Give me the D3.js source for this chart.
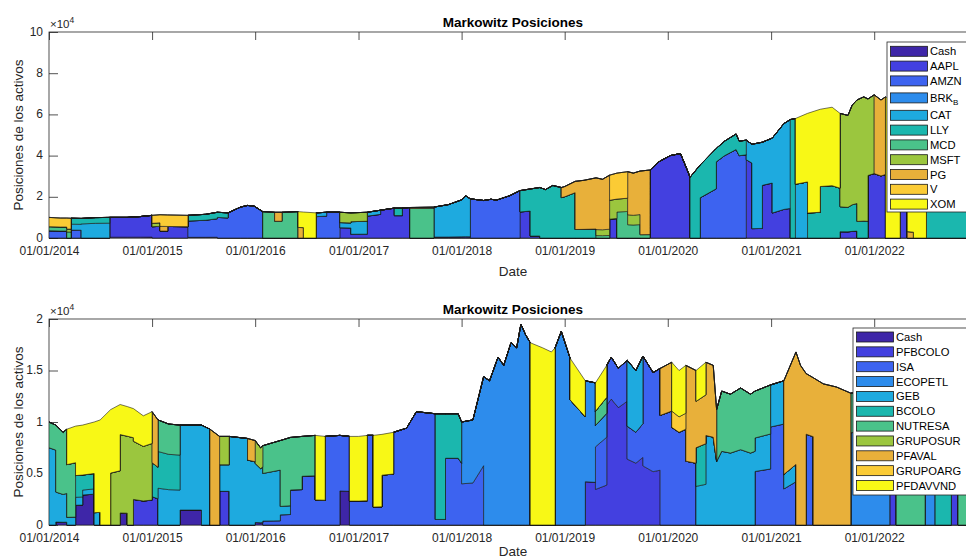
<!DOCTYPE html>
<html lang="es">
<head>
  <meta charset="UTF-8">
  <title>Markowitz Posiciones</title>
  <script src="https://d3js.org/d3.v7.min.js"></script>
  <style>
    body { margin: 0; background: #fff; }
    svg { display: block; font-family: "Liberation Sans", Arial, sans-serif; }
    .tick text { font-size: 12px; fill: #262626; }
    .tick line { stroke: #262626; stroke-width: 0.8; }
    .area { stroke: #1a1a1a; stroke-width: 0.6; stroke-linejoin: round; }
  </style>
</head>
<body>
<svg id="chart" width="966" height="560"></svg>
<script>
// colores tipo parula (uno por serie)
const colors = ["#3e26a8", "#4340e0", "#3d63f0", "#2d8cec", "#1eaadf", "#1bb7ae",
                "#4ac28a", "#9bc63e", "#e8b03a", "#fbcb35", "#f8f816"];

const topNames = ["Cash", "AAPL", "AMZN", "BRK_B", "CAT", "LLY", "MCD", "MSFT", "PG", "V", "XOM"];
const bottomNames = ["Cash", "PFBCOLO", "ISA", "ECOPETL", "GEB", "BCOLO", "NUTRESA",
                     "GRUPOSUR", "PFAVAL", "GRUPOARG", "PFDAVVND"];

const topYTicks = [0, 2, 4, 6, 8, 10];
const bottomYTicks = [0, 0.5, 1, 1.5, 2];

// valor total de la cartera (x10^4)
const topTotal = [
  ["2014-01-01",1.00],["2014-02-10",0.97],["2014-03-05",0.97],["2014-03-20",0.96],["2014-04-25",0.95],
  ["2014-06-15",0.99],["2014-08-04",1.00],["2014-10-05",1.00],["2014-11-20",1.04],["2015-01-01",1.10],
  ["2015-01-29",1.13],["2015-02-25",1.12],["2015-05-08",1.10],["2015-07-10",1.15],["2015-08-20",1.25],
  ["2015-09-27",1.22],["2015-11-10",1.50],["2015-12-05",1.58],["2015-12-28",1.55],["2016-01-28",1.28],
  ["2016-03-10",1.25],["2016-04-05",1.25],["2016-06-01",1.28],["2016-06-20",1.26],["2016-08-04",1.22],
  ["2016-09-10",1.25],["2016-10-27",1.25],["2016-12-05",1.22],["2017-02-01",1.25],["2017-03-20",1.35],
  ["2017-05-08",1.45],["2017-06-05",1.45],["2017-07-02",1.48],["2017-09-25",1.50],["2017-11-15",1.62],
  ["2018-01-01",1.85],["2018-01-15",2.05],["2018-02-01",1.90],["2018-03-20",1.82],["2018-04-15",1.88],
  ["2018-05-05",1.84],["2018-06-20",2.05],["2018-07-27",2.30],["2018-09-01",2.38],["2018-10-05",2.45],
  ["2018-10-25",2.35],["2018-11-20",2.55],["2018-12-20",2.45],["2019-01-01",2.50],["2019-02-07",2.75],
  ["2019-03-10",2.80],["2019-04-22",2.92],["2019-05-15",2.85],["2019-06-09",3.05],["2019-07-05",3.15],
  ["2019-08-12",3.22],["2019-09-01",3.15],["2019-09-25",3.25],["2019-10-30",3.30],["2019-12-01",3.70],
  ["2019-12-20",3.85],["2020-01-10",4.00],["2020-02-15",4.10],["2020-03-10",3.30],["2020-03-20",2.95],
  ["2020-04-25",3.55],["2020-05-20",3.90],["2020-06-21",4.35],["2020-07-20",4.70],["2020-08-30",5.05],
  ["2020-09-10",4.70],["2020-10-05",4.75],["2020-10-25",4.55],["2020-12-01",4.65],["2021-01-05",4.85],
  ["2021-02-15",5.55],["2021-03-10",5.75],["2021-03-28",5.80],["2021-05-10",6.05],["2021-06-24",6.25],
  ["2021-08-05",6.35],["2021-09-02",6.05],["2021-09-30",5.95],["2021-10-15",6.45],["2021-11-01",6.70],
  ["2021-11-25",6.85],["2021-12-10",6.75],["2022-01-01",6.95],["2022-01-25",6.70],["2022-02-10",6.85],
  ["2022-04-03",6.50],["2022-04-28",6.20],["2022-05-20",5.70],["2022-07-05",5.60],["2022-08-20",6.10],
  ["2022-10-01",5.60],["2022-12-31",6.00]
];

// reparto de la cartera desde cada fecha de rebalanceo
const topMixes = [
  ["2014-01-01",{AMZN:.35,MCD:.20,V:.45}],
  ["2014-03-05",{MCD:.30,MSFT:.15,V:.55}],
  ["2014-03-20",{AMZN:.40,CAT:.30,LLY:.30}],
  ["2014-04-25",{CAT:.72,LLY:.28}],
  ["2014-08-04",{Cash:.04,AAPL:.96}],
  ["2015-01-01",{AAPL:.50,MSFT:.15,V:.35}],
  ["2015-01-29",{AAPL:.30,PG:.20,V:.50}],
  ["2015-02-25",{AAPL:.50,V:.50}],
  ["2015-05-08",{Cash:.03,AMZN:.72,LLY:.25}],
  ["2015-08-20",{AMZN:.80,LLY:.20}],
  ["2015-09-27",{AMZN:1}],
  ["2016-01-28",{MCD:1}],
  ["2016-03-10",{MCD:.65,PG:.35}],
  ["2016-04-05",{MCD:1}],
  ["2016-06-01",{PG:.40,XOM:.60}],
  ["2016-06-20",{XOM:1}],
  ["2016-08-04",{AMZN:.85,CAT:.15}],
  ["2016-09-10",{AMZN:1}],
  ["2016-10-27",{AAPL:.40,CAT:.20,MSFT:.40}],
  ["2016-12-05",{AAPL:.15,CAT:.50,MSFT:.35}],
  ["2017-02-01",{AAPL:.85,CAT:.15}],
  ["2017-03-20",{AAPL:1}],
  ["2017-05-08",{AAPL:.75,LLY:.25}],
  ["2017-06-05",{AAPL:1}],
  ["2017-07-02",{MCD:.97,PG:.03}],
  ["2017-09-25",{AAPL:.03,CAT:.97}],
  ["2018-02-01",{AMZN:1}],
  ["2018-07-27",{AAPL:.55,LLY:.45}],
  ["2018-09-01",{AAPL:.04,LLY:.96}],
  ["2018-10-05",{LLY:1}],
  ["2018-12-20",{LLY:.80,PG:.20}],
  ["2019-02-07",{LLY:.15,PG:.85}],
  ["2019-04-22",{MCD:.04,MSFT:.10,PG:.86}],
  ["2019-06-09",{AAPL:.30,MSFT:.30,V:.40}],
  ["2019-07-05",{MCD:.40,MSFT:.20,V:.40}],
  ["2019-08-12",{MCD:.20,MSFT:.15,PG:.65}],
  ["2019-09-25",{MCD:.05,PG:.95}],
  ["2019-10-30",{AAPL:1}],
  ["2020-03-20",{LLY:1}],
  ["2020-04-25",{AMZN:.55,LLY:.45}],
  ["2020-06-21",{AMZN:.85,LLY:.15}],
  ["2020-10-05",{AAPL:.80,CAT:.20}],
  ["2020-10-25",{AAPL:.10,CAT:.90}],
  ["2020-12-01",{AAPL:.55,CAT:.45}],
  ["2021-01-05",{AAPL:.25,CAT:.75}],
  ["2021-03-10",{LLY:1}],
  ["2021-03-28",{CAT:.45,XOM:.55}],
  ["2021-05-10",{LLY:.20,XOM:.80}],
  ["2021-06-24",{LLY:.40,XOM:.60}],
  ["2021-09-02",{AAPL:.05,LLY:.20,MSFT:.75}],
  ["2021-11-01",{LLY:.12,MSFT:.88}],
  ["2021-12-10",{AAPL:.45,MSFT:.55}],
  ["2022-01-01",{AAPL:.45,PG:.55}],
  ["2022-02-10",{XOM:1}],
  ["2022-04-03",{AAPL:.40,XOM:.60}],
  ["2022-04-28",{PG:.05,XOM:.95}],
  ["2022-05-20",{XOM:1}],
  ["2022-07-05",{LLY:1}]
];

const bottomTotal = [
  ["2014-01-01",1.00],["2014-01-25",0.97],["2014-02-20",0.90],["2014-03-05",0.93],["2014-04-05",0.96],
  ["2014-04-30",0.97],["2014-06-10",1.00],["2014-07-01",1.02],["2014-08-07",1.12],["2014-09-10",1.17],
  ["2014-10-05",1.15],["2014-10-27",1.13],["2014-12-01",1.06],["2015-01-01",1.10],["2015-01-22",1.02],
  ["2015-03-01",0.98],["2015-04-10",0.97],["2015-06-25",0.97],["2015-07-25",0.93],["2015-08-28",0.86],
  ["2015-10-01",0.86],["2015-12-05",0.84],["2016-01-01",0.82],["2016-01-20",0.75],["2016-01-28",0.77],
  ["2016-03-05",0.80],["2016-03-30",0.82],["2016-05-05",0.85],["2016-06-15",0.86],["2016-08-01",0.87],
  ["2016-09-05",0.86],["2016-10-27",0.87],["2016-11-30",0.86],["2017-01-01",0.86],["2017-02-01",0.87],
  ["2017-02-22",0.87],["2017-03-25",0.88],["2017-05-05",0.90],["2017-06-20",0.94],["2017-07-25",1.10],
  ["2017-09-30",1.08],["2017-11-05",1.08],["2017-12-20",1.08],["2018-01-01",1.00],["2018-02-10",1.02],
  ["2018-03-20",1.44],["2018-04-10",1.40],["2018-05-10",1.63],["2018-05-30",1.55],["2018-06-25",1.77],
  ["2018-07-15",1.72],["2018-07-30",1.95],["2018-08-15",1.85],["2018-09-01",1.77],["2018-10-15",1.72],
  ["2018-11-15",1.68],["2018-11-28",1.72],["2018-12-20",1.88],["2019-01-20",1.62],["2019-03-15",1.40],
  ["2019-04-20",1.38],["2019-05-30",1.55],["2019-06-15",1.63],["2019-07-10",1.52],["2019-08-10",1.60],
  ["2019-09-10",1.50],["2019-10-05",1.64],["2019-11-10",1.48],["2019-12-05",1.52],["2020-01-15",1.58],
  ["2020-02-10",1.50],["2020-03-05",1.55],["2020-04-10",1.50],["2020-05-15",1.58],["2020-06-10",1.55],
  ["2020-06-22",1.12],["2020-07-10",1.30],["2020-08-10",1.27],["2020-09-15",1.33],["2020-10-20",1.27],
  ["2020-11-05",1.30],["2020-12-30",1.36],["2021-02-15",1.40],["2021-03-30",1.68],["2021-04-15",1.55],
  ["2021-05-05",1.47],["2021-05-30",1.43],["2021-07-05",1.37],["2021-08-20",1.34],["2021-10-10",1.28],
  ["2021-12-10",1.30],["2022-02-25",1.35],["2022-03-20",1.33],["2022-06-30",1.15],["2022-08-05",1.12],
  ["2022-10-01",1.10],["2022-10-25",1.12],["2022-12-31",1.15]
];

const bottomMixes = [
  ["2014-01-01",{GEB:.75,NUTRESA:.25}],
  ["2014-01-25",{Cash:.03,GEB:.30,NUTRESA:.67}],
  ["2014-03-05",{GEB:.08,NUTRESA:.55,PFDAVVND:.37}],
  ["2014-04-05",{Cash:.20,GEB:.08,BCOLO:.22,PFDAVVND:.50}],
  ["2014-04-30",{Cash:.30,GEB:.05,BCOLO:.15,PFDAVVND:.50}],
  ["2014-06-10",{GEB:.12,PFDAVVND:.88}],
  ["2014-07-01",{PFDAVVND:1}],
  ["2014-08-07",{GRUPOSUR:.45,PFDAVVND:.55}],
  ["2014-09-10",{Cash:.10,GRUPOSUR:.65,PFDAVVND:.25}],
  ["2014-10-05",{GRUPOSUR:.75,PFDAVVND:.25}],
  ["2014-10-27",{PFBCOLO:.22,GRUPOSUR:.50,PFDAVVND:.28}],
  ["2015-01-01",{PFBCOLO:.25,BCOLO:.30,PFAVAL:.45}],
  ["2015-01-22",{GEB:.35,BCOLO:.35,NUTRESA:.30}],
  ["2015-04-10",{Cash:.15,GEB:.85}],
  ["2015-06-25",{GEB:1}],
  ["2015-07-25",{PFAVAL:1}],
  ["2015-08-28",{PFBCOLO:.38,GEB:.30,GRUPOSUR:.32}],
  ["2015-10-01",{GEB:1}],
  ["2015-12-05",{GEB:.75,PFAVAL:.25}],
  ["2016-01-01",{Cash:.03,GEB:.70,GRUPOSUR:.27}],
  ["2016-01-28",{ISA:.05,GEB:.60,NUTRESA:.35}],
  ["2016-03-30",{ISA:.12,GEB:.10,NUTRESA:.78}],
  ["2016-05-05",{ISA:.40,NUTRESA:.60}],
  ["2016-06-15",{ISA:.55,NUTRESA:.45}],
  ["2016-08-01",{ISA:.28,PFDAVVND:.72}],
  ["2016-09-05",{ISA:1}],
  ["2016-10-27",{Cash:.38,ISA:.62}],
  ["2016-11-30",{ISA:.27,PFDAVVND:.73}],
  ["2017-02-01",{ISA:1}],
  ["2017-02-22",{ISA:.20,PFDAVVND:.80}],
  ["2017-03-25",{ISA:.55,PFDAVVND:.45}],
  ["2017-05-05",{ISA:1}],
  ["2017-09-30",{ISA:.05,BCOLO:.95}],
  ["2017-11-05",{ISA:.60,BCOLO:.40}],
  ["2018-01-01",{ISA:.40,ECOPETL:.60}],
  ["2018-03-20",{ECOPETL:1}],
  ["2018-09-01",{PFDAVVND:1}],
  ["2018-11-28",{ECOPETL:1}],
  ["2019-01-20",{ECOPETL:.75,PFDAVVND:.25}],
  ["2019-03-15",{PFBCOLO:.30,ECOPETL:.70}],
  ["2019-04-20",{PFBCOLO:.25,ISA:.30,ECOPETL:.15,NUTRESA:.10,PFDAVVND:.20}],
  ["2019-05-30",{PFBCOLO:.75,ISA:.25}],
  ["2019-08-10",{PFBCOLO:.40,ISA:.20,GEB:.40}],
  ["2019-10-05",{PFBCOLO:.35,ISA:.65}],
  ["2019-12-05",{ISA:.70,PFAVAL:.30}],
  ["2020-01-15",{ISA:.60,GRUPOARG:.10,PFDAVVND:.30}],
  ["2020-03-05",{ISA:.40,PFAVAL:.60}],
  ["2020-04-10",{GEB:.25,BCOLO:.25,PFAVAL:.30,PFDAVVND:.20}],
  ["2020-05-15",{GEB:.55,PFAVAL:.45}],
  ["2020-06-22",{GEB:.55,NUTRESA:.45}],
  ["2020-11-05",{ISA:.40,GEB:.25,NUTRESA:.35}],
  ["2020-12-30",{ISA:.70,GEB:.30}],
  ["2021-02-15",{ISA:.25,GEB:.10,PFAVAL:.65}],
  ["2021-03-30",{PFAVAL:1}],
  ["2021-05-05",{ISA:.60,PFAVAL:.40}],
  ["2021-05-30",{PFAVAL:1}],
  ["2021-10-10",{ECOPETL:.70,NUTRESA:.30}],
  ["2021-12-10",{ECOPETL:1}],
  ["2022-02-25",{PFBCOLO:1}],
  ["2022-03-20",{NUTRESA:1}],
  ["2022-06-30",{ECOPETL:1}],
  ["2022-08-05",{BCOLO:.80,NUTRESA:.20}],
  ["2022-10-01",{PFBCOLO:1}],
  ["2022-10-25",{NUTRESA:1}]
];

const parseDate = d3.timeParse("%Y-%m-%d");
const svg = d3.select("#chart");
const axisColor = "#262626";

// filas para el apilado: en cada rebalanceo se repite la fecha con el reparto viejo y el nuevo
function buildRows(names, totals, mixes) {
  const rows = [];
  let m = 0;
  const row = (date, t, w) => {
    const r = { date };
    names.forEach(n => r[n] = t * (w[n] || 0));
    return r;
  };
  totals.forEach(([ds, t]) => {
    const date = parseDate(ds);
    let next = m;
    while (next + 1 < mixes.length && parseDate(mixes[next + 1][0]) <= date) next++;
    if (next !== m) {
      rows.push(row(date, t, mixes[m][1]));
      m = next;
    }
    rows.push(row(date, t, mixes[m][1]));
  });
  return rows;
}

function drawPanel(cfg) {
  const left = 49, right = 977;
  const x = d3.scaleTime()
    .domain([parseDate("2014-01-01"), parseDate("2022-12-31")])
    .range([left, right]);
  const y = d3.scaleLinear()
    .domain([0, cfg.yMax])
    .range([cfg.bottom, cfg.top]);

  const g = svg.append("g");

  // caja y marcas (debajo de las areas, como en MATLAB)
  g.append("rect")
    .attr("x", left).attr("y", cfg.top)
    .attr("width", right - left).attr("height", cfg.bottom - cfg.top)
    .attr("fill", "none").attr("stroke", axisColor).attr("stroke-width", 0.8);

  const years = d3.timeYear.every(1);
  g.append("g")
    .attr("transform", `translate(0,${cfg.top})`)
    .call(d3.axisTop(x).ticks(years).tickSize(-8).tickFormat(""))
    .call(a => a.select(".domain").remove());
  g.append("g")
    .attr("transform", `translate(0,${cfg.bottom})`)
    .call(d3.axisBottom(x).ticks(years).tickSize(-8).tickPadding(8)
      .tickFormat(d3.timeFormat("%d/%m/%Y")))
    .call(a => a.select(".domain").remove());
  g.append("g")
    .attr("transform", `translate(${left},0)`)
    .call(d3.axisLeft(y).tickValues(cfg.yTicks).tickSize(-9).tickPadding(6)
      .tickFormat(d => String(d)))
    .call(a => a.select(".domain").remove())
    .call(a => a.selectAll(".tick text").attr("dy", "0.26em"));

  // areas apiladas
  const clipId = "clip" + cfg.top;
  svg.append("clipPath").attr("id", clipId)
    .append("rect")
    .attr("x", left).attr("y", cfg.top - 1)
    .attr("width", right - left).attr("height", cfg.bottom - cfg.top + 2);

  const rows = buildRows(cfg.names, cfg.totals, cfg.mixes);
  const series = d3.stack().keys(cfg.names)(rows);
  const area = d3.area()
    .x(d => x(d.data.date))
    .y0(d => y(d[0]))
    .y1(d => y(d[1]));

  g.append("g")
    .attr("clip-path", `url(#${clipId})`)
    .selectAll("path")
    .data(series)
    .join("path")
    .attr("class", "area")
    .attr("fill", (d, i) => colors[i])
    .attr("d", area);

  // textos
  const cx = (left + right) / 2;
  g.append("text")
    .attr("x", cx).attr("y", cfg.top - 5)
    .attr("text-anchor", "middle")
    .attr("font-size", 13.5).attr("font-weight", "bold").attr("fill", "#000")
    .text("Markowitz Posiciones");

  const exp = g.append("text")
    .attr("x", left + 1).attr("y", cfg.top - 4)
    .attr("font-size", 11.5).attr("fill", axisColor);
  exp.append("tspan").text("\u00d710");
  exp.append("tspan").attr("dy", -5).attr("font-size", 8.5).text("4");

  g.append("text")
    .attr("x", cx).attr("y", cfg.dateY)
    .attr("text-anchor", "middle")
    .attr("font-size", 13.5).attr("fill", axisColor)
    .text("Date");

  g.append("text")
    .attr("transform", `translate(23,${(cfg.top + cfg.bottom) / 2}) rotate(-90)`)
    .attr("text-anchor", "middle")
    .attr("font-size", 13.5).attr("fill", axisColor)
    .text("Posiciones de los activos");

  // leyenda
  const lg = cfg.legend;
  const leg = g.append("g");
  leg.append("rect")
    .attr("x", lg.x).attr("y", lg.y)
    .attr("width", lg.w).attr("height", lg.h)
    .attr("fill", "#fff").attr("stroke", axisColor).attr("stroke-width", 0.8);

  const rowY = i => lg.y0 + i * lg.step + (lg.extra && i >= 3 ? 2.2 : 0) + (lg.extra && i >= 4 ? 2.6 : 0);
  const items = leg.selectAll("g.item")
    .data(cfg.names)
    .join("g")
    .attr("class", "item")
    .attr("transform", (d, i) => `translate(0,${rowY(i)})`);

  items.append("rect")
    .attr("x", lg.x + 3.5).attr("y", -5)
    .attr("width", 37).attr("height", 10)
    .attr("fill", (d, i) => colors[i])
    .attr("stroke", "#1a1a1a").attr("stroke-width", 0.8);

  items.append("text")
    .attr("x", lg.x + 43).attr("y", 4)
    .attr("font-size", 11.2).attr("fill", "#000")
    .each(function (d) {
      const t = d3.select(this);
      if (d === "BRK_B") {
        t.append("tspan").text("BRK");
        t.append("tspan").attr("dy", 3).attr("font-size", 8).text("B");
      } else {
        t.text(d);
      }
    });
}

drawPanel({
  top: 32, bottom: 238, yMax: 10, yTicks: topYTicks, dateY: 276,
  names: topNames, totals: topTotal, mixes: topMixes,
  legend: { x: 887, y: 42, w: 90, h: 170, y0: 51.3, step: 14.8, extra: true }
});

drawPanel({
  top: 319, bottom: 525, yMax: 2, yTicks: bottomYTicks, dateY: 556,
  names: bottomNames, totals: bottomTotal, mixes: bottomMixes,
  legend: { x: 853, y: 328, w: 124, h: 167, y0: 337, step: 14.85, extra: false }
});
</script>
</body>
</html>
